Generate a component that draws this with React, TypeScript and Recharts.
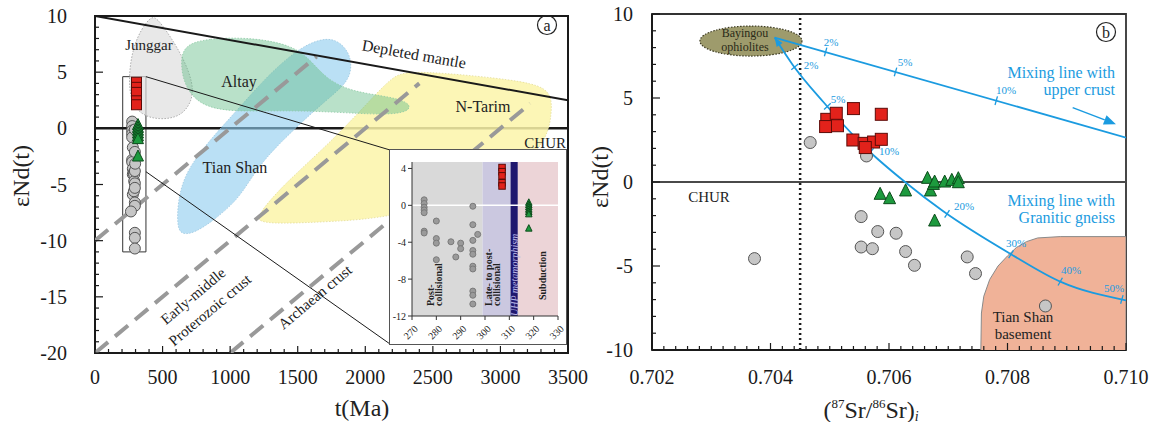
import React from 'react'
import { ScatterChart, Scatter, XAxis, YAxis, ReferenceLine, ReferenceArea, ReferenceDot } from 'recharts'

type Pt = [number, number]

const SERIF = '"Liberation Serif", "Times New Roman", serif'
const INK = '#1a1a1a'
const MIX = '#1b9be0'

// ---------- (a) εNd(t) vs t(Ma) ----------
const ageTicks = [0, 500, 1000, 1500, 2000, 2500, 3000, 3500]
const epsTicksA = [-20, -15, -10, -5, 0, 5, 10]

const junggar: Pt[] = [[420, 10.0], [351, 9.0], [283, 7.3], [249, 4.8], [261, 2.5], [338, 1.2], [474, 0.74], [639, 1.03], [721, 2.5], [726, 4.0], [652, 6.35], [529, 8.7], [460, 9.76]]
const altay: Pt[] = [[652, 7.4], [830, 8.0], [1159, 8.1], [1460, 7.4], [1597, 6.06], [1707, 4.44], [1898, 3.25], [2200, 2.8], [2337, 2.2], [2323, 1.47], [2145, 1.18], [1761, 1.47], [1378, 1.6], [995, 1.47], [776, 2.07], [666, 3.7], [633, 5.6]]
const tianShan: Pt[] = [[1651, 7.92], [1776, 8.0], [1873, 6.95], [1902, 5.6], [1873, 4.1], [1710, 2.5], [1488, 0.1], [1266, -2.55], [1147, -4.6], [1051, -6.4], [888, -8.1], [740, -9.3], [637, -9.5], [607, -8.6], [614, -6.4], [666, -4.0], [829, -1.3], [1051, 1.6], [1266, 4.55], [1488, 6.95]]
const nTarim: Pt[] = [[2309, 5.17], [2857, 4.64], [3264, 4.02], [3375, 3.13], [3383, 1.45], [3331, -1.93], [2850, -5.92], [2169, -7.96], [1762, -8.3], [1347, -8.5], [1214, -8.3], [1199, -7.8], [1377, -5.2], [1762, -1.04], [2036, 2.51], [2198, 4.55]]

const depletedMantle: Pt[] = [[0, 10], [3500, 2.5]]
const crustLine1: Pt[] = [[0, -10], [1640, 6.4]]
const crustLine2: Pt[] = [[0, -20], [2400, 4.0]]
const crustLine3: Pt[] = [[1000, -20], [3220, 2.2]]

// samples (age, εNd(t)), shown in the main plot and the enlarged inset
const postCollisional: Pt[] = [
  [275, 0.6], [275, 0.2], [275, -0.2], [275, -0.5], [275, -0.8], [275, -2.8], [275, -3.0],
  [280, -1.7], [280, -3.6], [280, -4.1], [280, -5.9], [286, -3.95], [288, -5.6], [290, -4.1], [290, -4.7],
  [295, -0.1], [295, -2.1], [295, -3.8], [295, -4.9], [295, -5.3], [295, -6.6], [295, -6.9],
  [295, -9.3], [295, -9.75], [295, -10.7], [297, -3.15], [266, -7.4],
]
const lateCollisional: Pt[] = [[307, 4.1], [307, 3.65], [307, 3.2], [307, 2.45], [307, 2.1]]
const subduction: Pt[] = [[318, 0.3], [318, 0.05], [318, -0.2], [318, -0.45], [318, -0.7], [318, -0.95], [318, -2.5]]

const zoomBox: Pt[] = [[205, -11], [377, 4.6]]
const connectorTop: Pt[] = [[377, 4.6], [2183, -1.93]]
const connectorBottom: Pt[] = [[377, -3.86], [2183, -19.2]]

// inset
const insetAgeTicks = [270, 280, 290, 300, 310, 320, 330]
const insetEpsTicks = [-12, -8, -4, 0, 4]
const stageBounds = [270, 299, 310.5, 313.5, 330]
const stageFills = ['#d9d9d9', '#cbc8e0', '#1f176e', '#ecd4d7']

// ---------- (b) εNd(t) vs (87Sr/86Sr)i ----------
const srTicks = [0.702, 0.704, 0.706, 0.708, 0.71]
const epsTicksB = [-10, -5, 0, 5, 10]

const srCircles: Pt[] = [[0.70467, 2.35], [0.70562, 1.55], [0.70373, -4.56], [0.70553, -2.06], [0.70581, -2.95], [0.70612, -3.05], [0.70553, -3.87], [0.70572, -3.97], [0.70628, -4.14], [0.70643, -4.96], [0.70732, -4.46], [0.70746, -5.45], [0.70864, -7.38]]
const srSquares: Pt[] = [[0.70495, 3.73], [0.70493, 3.3], [0.70511, 4.09], [0.70513, 3.35], [0.7054, 4.37], [0.70587, 4.03], [0.70539, 2.5], [0.70558, 2.3], [0.70574, 2.38], [0.70587, 2.54], [0.7056, 2.05]]
const srTriangles: Pt[] = [[0.70585, -0.73], [0.70601, -0.99], [0.70628, -0.53], [0.70665, 0.22], [0.7067, -0.53], [0.70675, -0.14], [0.70677, 0.0], [0.70694, 0.0], [0.70706, 0.1], [0.70717, 0.2], [0.70677, -2.32], [0.70717, -0.04]]

const upperCrustMix: Pt[] = [[0.70407, 8.6], [0.71, 2.64]]
const upperCrustPct: Pt[] = [[0.70493, 7.74], [0.70611, 6.55], [0.70781, 4.84]]
const gneissMix: Pt[] = [[0.70407, 8.6], [0.70437, 7.0], [0.7049, 4.73], [0.70563, 1.95], [0.70627, 0.0], [0.70691, -1.73], [0.70806, -4.3], [0.70889, -5.93], [0.71, -7.05]]
const gneissPct: Pt[] = [[0.70441, 6.85], [0.70496, 4.5], [0.70569, 1.8], [0.70698, -1.9], [0.70806, -4.3], [0.70889, -5.93], [0.70993, -6.99]]
const mixArrow: Pt[] = [[0.7091, 4.43], [0.70983, 3.44]]
const basement: Pt[] = [[0.70755, -10], [0.70756, -7.8], [0.7076, -6.8], [0.7077, -5.8], [0.70784, -5.0], [0.708, -4.4], [0.70815, -3.9], [0.70832, -3.55], [0.70851, -3.33], [0.70889, -3.25], [0.71, -3.25], [0.71, -10]]
const ophiolite: Pt = [0.70367, 8.39]
const bulkEarthSr = 0.7045

// plot geometry of panel (b), used to orient the % marks
const B_PX_X = 474 / 0.008
const B_PX_Y = 336 / 20

const toXY = (a: Pt[]) => a.map(([x, y]) => ({ x, y }))
const steps = (a: number, b: number, d: number) =>
  Array.from({ length: Math.round((b - a) / d) + 1 }, (_, i) => +(a + i * d).toFixed(6))
const inList = (list: number[]) => (v: number) => list.some((t) => Math.abs(t - v) < 1e-7)

const hidden = () => <g />

function trace(key: string, data: Pt[], line: Record<string, unknown>, joint: any = 'linear') {
  return <Scatter key={key} data={toXY(data)} shape={hidden} line={line} lineJointType={joint} isAnimationActive={false} />
}

const textStyle = { fontFamily: SERIF }

function frameTick(o: { side: 'left' | 'bottom'; major: (v: number) => boolean; label: (v: number) => string; long: number; short: number; gap: number; size: number }) {
  return (p: any) => {
    const v = p.payload.value as number
    const big = o.major(v)
    const len = big ? o.long : o.short
    if (o.side === 'left') {
      return (
        <g>
          <line x1={p.x} y1={p.y} x2={p.x + len} y2={p.y} stroke={INK} strokeWidth={1.2} />
          {big && (
            <text x={p.x - o.gap} y={p.y} textAnchor="end" dominantBaseline="central" fontFamily={SERIF} style={textStyle} fontSize={o.size} fill={INK}>
              {o.label(v)}
            </text>
          )}
        </g>
      )
    }
    return (
      <g>
        <line x1={p.x} y1={p.y} x2={p.x} y2={p.y - len} stroke={INK} strokeWidth={1.2} />
        {big && (
          <text x={p.x} y={p.y + o.gap} textAnchor="middle" dominantBaseline="central" fontFamily={SERIF} style={textStyle} fontSize={o.size} fill={INK}>
            {o.label(v)}
          </text>
        )}
      </g>
    )
  }
}

const circle = (r: number, fill: string, stroke: string) => (p: any) => (
  <circle cx={p.cx} cy={p.cy} r={r} fill={fill} stroke={stroke} strokeWidth={1} />
)
const square = (s: number, fill: string, stroke: string) => (p: any) => (
  <rect x={p.cx - s / 2} y={p.cy - s / 2} width={s} height={s} fill={fill} stroke={stroke} strokeWidth={1} />
)
const triangle = (s: number, fill: string, stroke: string) => (p: any) => (
  <polygon
    points={`${p.cx},${p.cy - s * 0.58} ${p.cx - s / 2},${p.cy + s * 0.42} ${p.cx + s / 2},${p.cy + s * 0.42}`}
    fill={fill}
    stroke={stroke}
    strokeWidth={1}
  />
)

const RED = '#e2221b'
const RED_EDGE = '#5c0b08'
const GREY = '#c6c6c6'
const GREY_EDGE = '#555'
const GREEN = '#1d9a3e'
const GREEN_EDGE = '#0c4c1b'

// direction of a mixing curve (screen radians) near x
function pixelAngle(curve: Pt[], x: number) {
  let i = curve.findIndex((c) => c[0] >= x)
  if (i <= 0) i = i === 0 ? 1 : curve.length - 1
  const [x0, y0] = curve[i - 1]
  const [x1, y1] = curve[i]
  return Math.atan2(-(y1 - y0) * B_PX_Y, (x1 - x0) * B_PX_X)
}

const pctMark = (curve: Pt[]) => (p: any) => {
  const a = pixelAngle(curve, p.payload.x)
  const nx = -Math.sin(a) * 4.5
  const ny = Math.cos(a) * 4.5
  return <line x1={p.cx - nx} y1={p.cy - ny} x2={p.cx + nx} y2={p.cy + ny} stroke={MIX} strokeWidth={1.3} />
}

function PanelA() {
  const fieldEdge = { strokeWidth: 0.8, strokeDasharray: '1.5 1.5' }
  return (
    <ScatterChart width={590} height={422} margin={{ top: 16, right: 22, bottom: 0, left: 0 }}>
      <XAxis
        type="number" dataKey="x" domain={[0, 3500]} allowDataOverflow ticks={steps(0, 3500, 100)} interval={0}
        height={69} tickSize={0} tickMargin={0} tickLine={false} axisLine={{ stroke: INK, strokeWidth: 2 }}
        tick={frameTick({ side: 'bottom', major: inList(ageTicks), label: String, long: 7, short: 4, gap: 24, size: 20 })}
      />
      <YAxis
        type="number" dataKey="y" domain={[-20, 10]} allowDataOverflow ticks={steps(-20, 10, 1)} interval={0}
        width={95} tickSize={0} tickMargin={0} tickLine={false} axisLine={{ stroke: INK, strokeWidth: 2 }}
        tick={frameTick({ side: 'left', major: inList(epsTicksA), label: String, long: 8, short: 4, gap: 28, size: 20 })}
      />
      {trace('ntarim', nTarim, { fill: '#fbf4a9', fillOpacity: 0.85, stroke: '#e3dc97', ...fieldEdge }, 'basisClosed')}
      {trace('tianshan', tianShan, { fill: '#8fcdef', fillOpacity: 0.62, stroke: '#9cc7df', ...fieldEdge }, 'basisClosed')}
      {trace('junggar', junggar, { fill: '#dedede', fillOpacity: 0.7, stroke: '#9a9a9a', ...fieldEdge }, 'basisClosed')}
      {trace('altay', altay, { fill: '#63bd88', fillOpacity: 0.45, stroke: '#8cc9a3', ...fieldEdge }, 'basisClosed')}
      {trace('crust1', crustLine1, { stroke: '#999', strokeWidth: 4, strokeDasharray: '17 9' })}
      {trace('crust2', crustLine2, { stroke: '#999', strokeWidth: 4, strokeDasharray: '17 9' })}
      {trace('crust3', crustLine3, { stroke: '#999', strokeWidth: 4, strokeDasharray: '17 9' })}
      {trace('dm', depletedMantle, { stroke: INK, strokeWidth: 2 })}
      <ReferenceLine y={0} stroke={INK} strokeWidth={2.5} />
      {trace('conn1', connectorTop, { stroke: INK, strokeWidth: 1 })}
      {trace('conn2', connectorBottom, { stroke: INK, strokeWidth: 1 })}
      <ReferenceArea x1={zoomBox[0][0]} x2={zoomBox[1][0]} y1={zoomBox[0][1]} y2={zoomBox[1][1]} fill="#fff" fillOpacity={0} stroke="#333" strokeWidth={1} ifOverflow="visible" />
      <Scatter data={toXY(postCollisional)} shape={circle(5.5, GREY, GREY_EDGE)} isAnimationActive={false} />
      <Scatter data={toXY(lateCollisional)} shape={square(10, RED, RED_EDGE)} isAnimationActive={false} />
      <Scatter data={toXY(subduction)} shape={triangle(11, GREEN, GREEN_EDGE)} isAnimationActive={false} />
      <ReferenceArea x1={0} x2={3500} y1={-20} y2={10} fill="none" stroke={INK} strokeWidth={2} ifOverflow="visible" />
    </ScatterChart>
  )
}

const insetAgeTick = (p: any) => (
  <g>
    <line x1={p.x} y1={p.y} x2={p.x} y2={p.y + 4} stroke="#333" strokeWidth={1} />
    <text
      x={p.x + 4} y={p.y + 11} transform={`rotate(-45 ${p.x + 4} ${p.y + 11})`}
      textAnchor="end" dominantBaseline="central" fontFamily={SERIF} style={textStyle} fontSize={10} fill="#222"
    >
      {p.payload.value}
    </text>
  </g>
)
const insetEpsTick = (p: any) => (
  <g>
    <line x1={p.x} y1={p.y} x2={p.x - 4} y2={p.y} stroke="#333" strokeWidth={1} />
    <text x={p.x - 6} y={p.y} textAnchor="end" dominantBaseline="central" fontFamily={SERIF} style={textStyle} fontSize={10} fill="#222">
      {p.payload.value}
    </text>
  </g>
)

function Inset() {
  return (
    <ScatterChart width={176} height={194} margin={{ top: 12, right: 8, bottom: 0, left: 0 }}>
      <XAxis
        type="number" dataKey="x" domain={[270, 330]} allowDataOverflow ticks={insetAgeTicks} interval={0}
        height={28} tickSize={0} tickMargin={0} tickLine={false} axisLine={{ stroke: '#333', strokeWidth: 1 }} tick={insetAgeTick}
      />
      <YAxis
        type="number" dataKey="y" domain={[-12, 4.7]} allowDataOverflow ticks={insetEpsTicks} interval={0}
        width={22} tickSize={0} tickMargin={0} tickLine={false} axisLine={{ stroke: '#333', strokeWidth: 1 }} tick={insetEpsTick}
      />
      {stageFills.map((fill, i) => (
        <ReferenceArea key={i} x1={stageBounds[i]} x2={stageBounds[i + 1]} y1={-12} y2={4.7} fill={fill} fillOpacity={1} stroke="none" ifOverflow="visible" />
      ))}
      <ReferenceLine y={0} stroke="#fff" strokeWidth={1.5} />
      <Scatter data={toXY(postCollisional)} shape={circle(3, '#9a9a9a', '#7a7a7a')} isAnimationActive={false} />
      <Scatter data={toXY(lateCollisional)} shape={square(6.5, RED, RED_EDGE)} isAnimationActive={false} />
      <Scatter data={toXY(subduction)} shape={triangle(6.5, GREEN, GREEN_EDGE)} isAnimationActive={false} />
    </ScatterChart>
  )
}

const ophioliteShape = (p: any) => (
  <ellipse cx={p.cx} cy={p.cy} rx={51} ry={15} fill="#9e9b6c" stroke="#3d3b22" strokeWidth={1.2} strokeDasharray="1.5 1.5" />
)
const mixStartArrow = (p: any) => {
  const a = pixelAngle(gneissMix, gneissMix[0][0])
  const bx = p.cx + Math.cos(a) * 9
  const by = p.cy + Math.sin(a) * 9
  const px = -Math.sin(a) * 3.5
  const py = Math.cos(a) * 3.5
  return <polygon points={`${p.cx},${p.cy} ${bx + px},${by + py} ${bx - px},${by - py}`} fill={MIX} />
}
const arrowLine = (lp: any) => {
  const [s, e] = lp.points
  const a = Math.atan2(e.y - s.y, e.x - s.x)
  const bx = e.x - 12 * Math.cos(a)
  const by = e.y - 12 * Math.sin(a)
  const px = -Math.sin(a) * 5
  const py = Math.cos(a) * 5
  return (
    <g>
      <line x1={s.x} y1={s.y} x2={bx} y2={by} stroke={MIX} strokeWidth={1.5} />
      <polygon points={`${e.x},${e.y} ${bx + px},${by + py} ${bx - px},${by - py}`} fill={MIX} />
    </g>
  )
}

function PanelB() {
  return (
    <ScatterChart width={570} height={422} margin={{ top: 14, right: 24, bottom: 0, left: 0 }}>
      <XAxis
        type="number" dataKey="x" domain={[0.702, 0.71]} allowDataOverflow ticks={steps(0.702, 0.71, 0.0002)} interval={0}
        height={72} tickSize={0} tickMargin={0} tickLine={false} axisLine={{ stroke: INK, strokeWidth: 2 }}
        tick={frameTick({ side: 'bottom', major: inList(srTicks), label: (v) => v.toFixed(3), long: 7, short: 4, gap: 27, size: 20 })}
      />
      <YAxis
        type="number" dataKey="y" domain={[-10, 10]} allowDataOverflow ticks={steps(-10, 10, 1)} interval={0}
        width={72} tickSize={0} tickMargin={0} tickLine={false} axisLine={{ stroke: INK, strokeWidth: 2 }}
        tick={frameTick({ side: 'left', major: inList(epsTicksB), label: String, long: 8, short: 4, gap: 19, size: 20 })}
      />
      {trace('basement', basement, { fill: '#f0b298', fillOpacity: 1, stroke: '#8a8a8a', strokeWidth: 1 })}
      <ReferenceLine y={0} stroke="#4a4a4a" strokeWidth={2} />
      <ReferenceLine x={bulkEarthSr} stroke={INK} strokeWidth={2.5} strokeDasharray="2 3" />
      <ReferenceDot x={ophiolite[0]} y={ophiolite[1]} shape={ophioliteShape} />
      {trace('uc', upperCrustMix, { stroke: MIX, strokeWidth: 1.8 })}
      {trace('gneiss', gneissMix, { stroke: MIX, strokeWidth: 1.8 }, 'monotoneX')}
      <Scatter data={toXY(upperCrustPct)} shape={pctMark(upperCrustMix)} isAnimationActive={false} />
      <Scatter data={toXY(gneissPct)} shape={pctMark(gneissMix)} isAnimationActive={false} />
      <ReferenceDot x={gneissMix[0][0]} y={gneissMix[0][1]} shape={mixStartArrow} />
      <Scatter data={toXY(mixArrow)} shape={hidden} line={arrowLine} isAnimationActive={false} />
      <Scatter data={toXY(srCircles)} shape={circle(6, GREY, GREY_EDGE)} isAnimationActive={false} />
      <Scatter data={toXY(srSquares)} shape={square(12, RED, RED_EDGE)} isAnimationActive={false} />
      <Scatter data={toXY(srTriangles)} shape={triangle(12, GREEN, GREEN_EDGE)} isAnimationActive={false} />
      <ReferenceArea x1={0.702} x2={0.71} y1={-10} y2={10} fill="none" stroke="#333" strokeWidth={1.8} ifOverflow="visible" />
    </ScatterChart>
  )
}

function Label(p: { x: number; y: number; size?: number; rotate?: number; anchor?: 'start' | 'middle' | 'end'; color?: string; weight?: string; italic?: boolean; children: React.ReactNode }) {
  return (
    <text
      x={p.x} y={p.y} fontFamily={SERIF} style={textStyle} fontSize={p.size ?? 16} fill={p.color ?? '#222'}
      textAnchor={p.anchor ?? 'middle'} dominantBaseline="central" fontWeight={p.weight}
      fontStyle={p.italic ? 'italic' : undefined}
      transform={p.rotate ? `rotate(${p.rotate} ${p.x} ${p.y})` : undefined}
    >
      {p.children}
    </text>
  )
}

function Circled({ x, y, ch }: { x: number; y: number; ch: string }) {
  return (
    <g>
      <circle cx={x} cy={y} r={9.5} fill="none" stroke="#222" strokeWidth={1.2} />
      <Label x={x} y={y} size={16}>{ch}</Label>
    </g>
  )
}

function Annotations() {
  return (
    <svg width={1150} height={422} style={{ position: 'absolute', left: 0, top: 0, pointerEvents: 'none' }}>
      {/* panel (a) */}
      <Label x={21} y={176} size={24} rotate={-90}>εNd(t)</Label>
      <Label x={362} y={408} size={24}>t(Ma)</Label>
      <Label x={149} y={45} size={15}>Junggar</Label>
      <Label x={239} y={81}>Altay</Label>
      <Label x={235} y={167}>Tian Shan</Label>
      <Label x={483} y={106}>N-Tarim</Label>
      <Label x={414} y={54} rotate={10}>Depleted mantle</Label>
      <Label x={566} y={143} size={15} anchor="end">CHUR</Label>
      <Label x={193} y={296} size={15} rotate={-40}>Early-middle</Label>
      <Label x={210} y={310} size={15} rotate={-40}>Proterozoic crust</Label>
      <Label x={315} y={297} size={15} rotate={-40}>Archaean crust</Label>
      <Circled x={547} y={25} ch="a" />
      {/* inset stage names */}
      <Label x={430} y={306} size={10} rotate={-90} anchor="start" weight="bold">Post-</Label>
      <Label x={438} y={306} size={10} rotate={-90} anchor="start" weight="bold">collisional</Label>
      <Label x={488} y={306} size={10} rotate={-90} anchor="start" weight="bold">Late- to post-</Label>
      <Label x={496} y={306} size={10} rotate={-90} anchor="start" weight="bold">collisional</Label>
      <Label x={514} y={316} size={10} rotate={-90} anchor="start" italic color="#b7b3e6">UHP metamorphism</Label>
      <Label x={542} y={300} size={10} rotate={-90} anchor="start" weight="bold">Subduction</Label>

      {/* panel (b) */}
      <Label x={600} y={177} size={24} rotate={-90}>εNd(t)</Label>
      <text x={871} y={410} fontFamily={SERIF} style={textStyle} fontSize={24} fill="#222" textAnchor="middle" dominantBaseline="central">
        (<tspan dy={-7} fontSize={13}>87</tspan>
        <tspan dy={7}>Sr/</tspan>
        <tspan dy={-7} fontSize={13}>86</tspan>
        <tspan dy={7}>Sr)</tspan>
        <tspan dy={6} fontSize={14} fontStyle="italic">i</tspan>
      </text>
      <Label x={745} y={33} size={12} color="#2a2a18">Bayingou</Label>
      <Label x={745} y={47} size={12} color="#2a2a18">ophiolites</Label>
      <Label x={709} y={197} size={15}>CHUR</Label>
      <Label x={1023} y={317} size={15}>Tian Shan</Label>
      <Label x={1023} y={334} size={15}>basement</Label>
      <Label x={1115} y={72} anchor="end" color={MIX}>Mixing line with</Label>
      <Label x={1115} y={89} anchor="end" color={MIX}>upper crust</Label>
      <Label x={1115} y={200} anchor="end" color={MIX}>Mixing line with</Label>
      <Label x={1115} y={217} anchor="end" color={MIX}>Granitic gneiss</Label>
      <Label x={831} y={42} size={11} color={MIX}>2%</Label>
      <Label x={905} y={62} size={11} color={MIX}>5%</Label>
      <Label x={1006} y={90} size={11} color={MIX}>10%</Label>
      <Label x={811} y={65} size={11} color={MIX}>2%</Label>
      <Label x={838} y={99} size={11} color={MIX}>5%</Label>
      <Label x={889} y={151} size={11} color={MIX}>10%</Label>
      <Label x={964} y={206} size={11} color={MIX}>20%</Label>
      <Label x={1016} y={243} size={11} color={MIX}>30%</Label>
      <Label x={1071} y={270} size={11} color={MIX}>40%</Label>
      <Label x={1114} y={288} size={11} color={MIX}>50%</Label>
      <Circled x={1106} y={32} ch="b" />
    </svg>
  )
}

export default function App() {
  return (
    <div style={{ position: 'absolute', left: 0, top: 0, width: 1150, height: 422, background: '#fff', overflow: 'hidden' }}>
      <div style={{ position: 'absolute', left: 0, top: 0 }}>
        <PanelA />
      </div>
      <div style={{ position: 'absolute', left: 390, top: 150, width: 176, height: 194, background: '#fff', outline: '1.5px solid #555' }}>
        <Inset />
      </div>
      <div style={{ position: 'absolute', left: 580, top: 0 }}>
        <PanelB />
      </div>
      <Annotations />
    </div>
  )
}
